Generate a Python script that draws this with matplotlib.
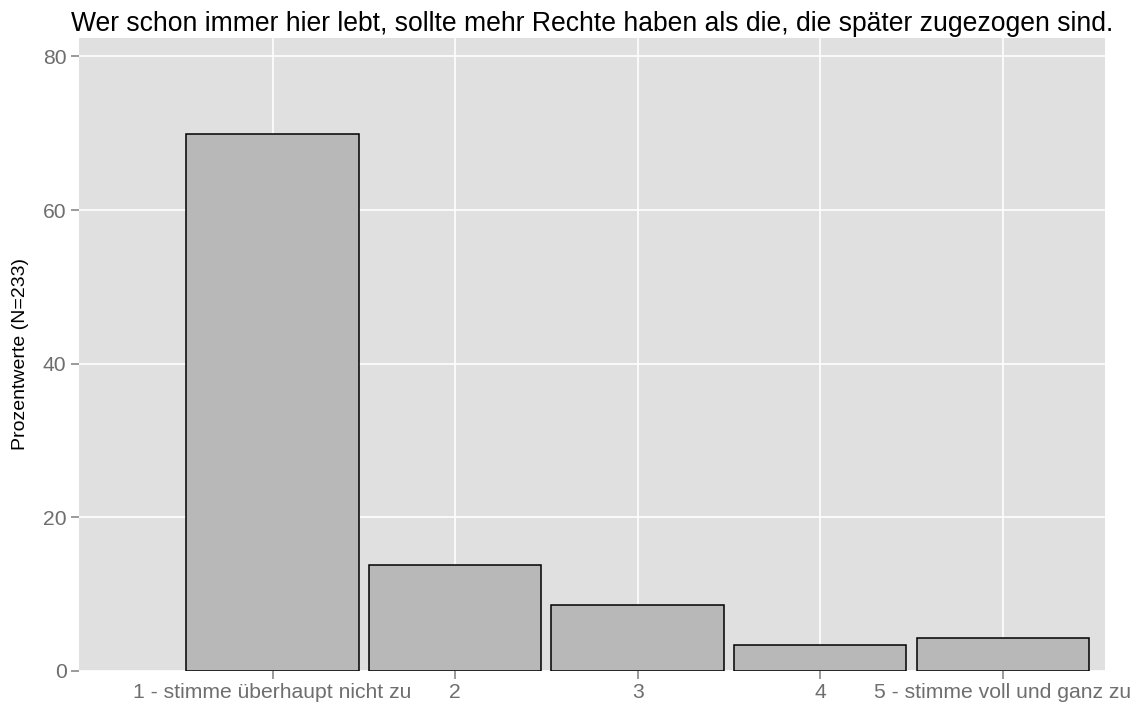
import numpy as np
from matplotlib import pyplot as plt

plt.rcParams['font.family'] = ['Liberation Sans', 'DejaVu Sans']

kategorien = ["1 - stimme überhaupt nicht zu", "2", "3", "4", "5 - stimme voll und ganz zu"]
anzahl = [163, 32, 20, 8, 10]
N = sum(anzahl)
prozent = [100 * a / N for a in anzahl]
y_ticks = [0, 20, 40, 60, 80]

fig = plt.figure(figsize=(11.37, 7.11), dpi=100)
ax = fig.add_axes([79 / 1137, 40 / 711, 1026 / 1137, 633 / 711])
ax.set_facecolor("#E0E0E0")

x = np.arange(1, len(kategorien) + 1)
ax.bar(x, prozent, width=0.945, color="#B8B8B8", edgecolor="black", linewidth=1.1, zorder=3)

ax.set_xlim(-0.06, 5.56)
ax.set_ylim(0, 82.4)
ax.set_xticks(x)
ax.set_xticklabels(kategorien)
ax.set_yticks(y_ticks)
ax.grid(True, color="white", linewidth=1.2, zorder=0)
ax.set_axisbelow(True)
for s in ax.spines.values():
    s.set_visible(False)
ax.tick_params(colors="#7F7F7F", labelcolor="#6E6E6E", labelsize=15.2, length=6, width=1.1, pad=3)

ax.set_ylabel("Prozentwerte (N=%d)" % N, fontsize=14, color="black", labelpad=10)
ax.set_title("Wer schon immer hier lebt, sollte mehr Rechte haben als die, die später zugezogen sind.",
             fontsize=19.1, color="black", pad=5)

plt.savefig("out.png", dpi=100)
